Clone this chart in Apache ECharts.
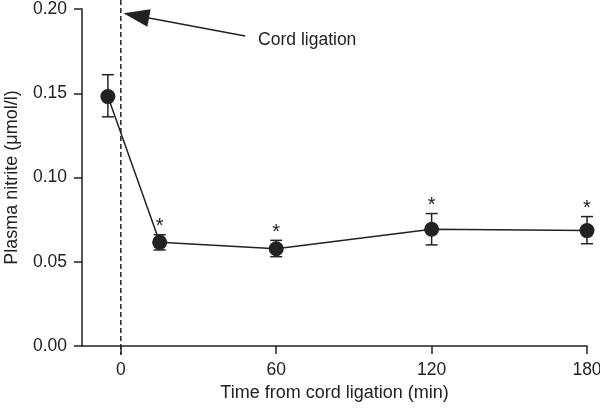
<!DOCTYPE html>
<html><head><meta charset="utf-8">
<script src="https://cdn.jsdelivr.net/npm/echarts@6/dist/echarts.min.js"></script>
<style>html,body{margin:0;padding:0;background:#fff}#c{width:600px;height:409px}</style>
</head><body><div id="c"></div>
<script>
const times = [-5, 15, 60, 120, 180];
const means = [0.148, 0.0615, 0.0577, 0.0693, 0.0685];
const lower = [0.136, 0.057, 0.053, 0.060, 0.0607];
const upper = [0.161, 0.066, 0.0627, 0.0786, 0.0768];
const significant = [false, true, true, true, true];
const xTicks = [0, 60, 120, 180];
const yTicks = [0, 0.05, 0.10, 0.15, 0.20];
const ligationTime = 0;
const arrowTip = [1, 0.1975];
const arrowTail = [48, 0.184];
const annotationText = 'Cord ligation';
const annotationPos = [53, 0.1815];

const font = 'Liberation Sans, Arial, Helvetica, sans-serif';
const chart = echarts.init(document.getElementById('c'));
chart.setOption({
  animation: false,
  grid: {left: 82, right: 13, top: 9, bottom: 63, outerBoundsMode: 'none', containLabel: false},
  xAxis: {
    type: 'value', min: -15, max: 180,
    name: 'Time from cord ligation (min)', nameLocation: 'middle', nameGap: 38,
    nameTextStyle: {fontFamily: font, fontSize: 18, color: '#222'},
    axisLine: {onZero: false, lineStyle: {color: '#222', width: 1.5}},
    axisTick: {customValues: xTicks, length: 8, lineStyle: {color: '#222', width: 1.5}},
    axisLabel: {customValues: xTicks, fontFamily: font, fontSize: 17.5, color: '#222', margin: 15},
    splitLine: {show: false}
  },
  yAxis: {
    type: 'value', min: 0, max: 0.2, interval: 0.05,
    name: 'Plasma nitrite (μmol/l)', nameLocation: 'middle', nameGap: 61,
    nameTextStyle: {fontFamily: font, fontSize: 18, color: '#222'},
    axisLine: {show: true, onZero: false, lineStyle: {color: '#222', width: 1.5}},
    axisTick: {show: true, length: 8, lineStyle: {color: '#222', width: 1.5}},
    axisLabel: {fontFamily: font, fontSize: 17.5, color: '#222', margin: 15,
      formatter: v => v.toFixed(2)},
    splitLine: {show: false}
  },
  series: [
    {
      type: 'custom', z: 1,
      data: [[ligationTime]],
      renderItem: (params, api) => {
        const top = api.coord([ligationTime, 0.2]);
        const bot = api.coord([ligationTime, 0]);
        return {type: 'line', shape: {x1: top[0], y1: top[1] - 9, x2: bot[0], y2: bot[1] + 9},
          style: {stroke: '#222', lineWidth: 1.5, lineDash: [5, 3]}};
      }
    },
    {
      type: 'line', data: times.map((t, i) => [t, means[i]]),
      symbol: 'circle', symbolSize: 15, z: 3,
      lineStyle: {color: '#222', width: 1.5},
      itemStyle: {color: '#222'}
    },
    {
      type: 'custom', z: 2,
      data: times.map((t, i) => [t, lower[i], upper[i], significant[i] ? 1 : 0]),
      renderItem: (params, api) => {
        const x = api.value(0);
        const lo = api.coord([x, api.value(1)]);
        const hi = api.coord([x, api.value(2)]);
        const w = 6;
        const children = [
          {type: 'line', shape: {x1: lo[0], y1: lo[1], x2: hi[0], y2: hi[1]}, style: {stroke: '#222', lineWidth: 1.5}},
          {type: 'line', shape: {x1: lo[0] - w, y1: lo[1], x2: lo[0] + w, y2: lo[1]}, style: {stroke: '#222', lineWidth: 1.5}},
          {type: 'line', shape: {x1: hi[0] - w, y1: hi[1], x2: hi[0] + w, y2: hi[1]}, style: {stroke: '#222', lineWidth: 1.5}}
        ];
        if (api.value(3)) {
          children.push({type: 'text', x: hi[0], y: hi[1] + 2,
            style: {text: '*', fontFamily: font, fontSize: 20, fill: '#222', align: 'center', verticalAlign: 'bottom'}});
        }
        return {type: 'group', children};
      }
    },
    {
      type: 'custom', z: 4,
      data: [[arrowTip[0], arrowTip[1], arrowTail[0], arrowTail[1]]],
      renderItem: (params, api) => {
        const tip = api.coord([api.value(0), api.value(1)]);
        const tail = api.coord([api.value(2), api.value(3)]);
        const ang = Math.atan2(tip[1] - tail[1], tip[0] - tail[0]);
        const L = 26, H = 9;
        const bx = tip[0] - L * Math.cos(ang), by = tip[1] - L * Math.sin(ang);
        const px = -Math.sin(ang) * H, py = Math.cos(ang) * H;
        const tp = api.coord(annotationPos);
        return {type: 'group', children: [
          {type: 'line', shape: {x1: tail[0], y1: tail[1], x2: bx, y2: by}, style: {stroke: '#222', lineWidth: 1.5}},
          {type: 'polygon', shape: {points: [[tip[0], tip[1]], [bx + px, by + py], [bx - px, by - py]]}, style: {fill: '#222'}},
          {type: 'text', x: tp[0], y: tp[1], style: {text: annotationText, fontFamily: font, fontSize: 17.5, fill: '#222', verticalAlign: 'middle'}}
        ]};
      }
    }
  ]
});
</script></body></html>
